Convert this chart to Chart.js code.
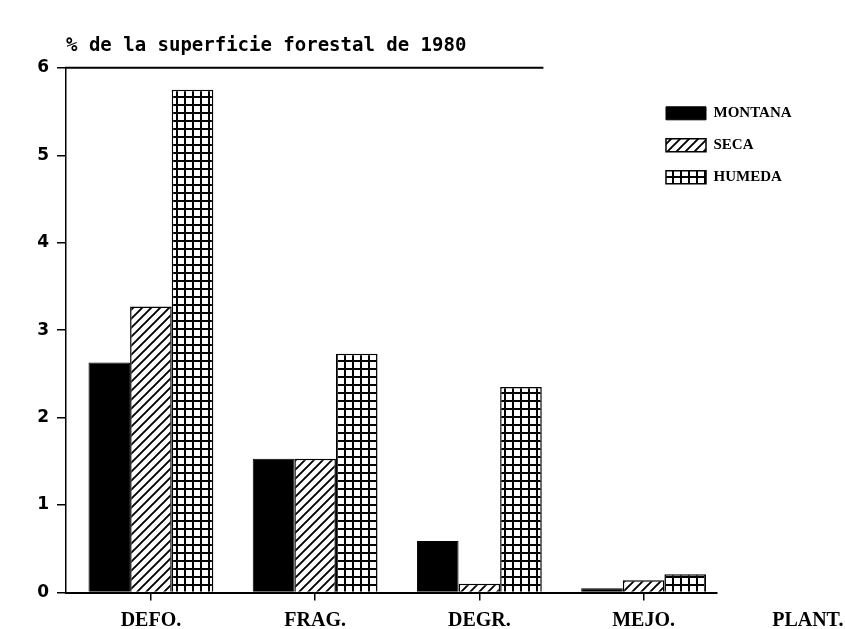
<!DOCTYPE html>
<html>
<head>
<meta charset="utf-8">
<script src="https://cdn.jsdelivr.net/npm/chart.js@4.4.1/dist/chart.umd.min.js"></script>
<style>
  html, body { margin: 0; padding: 0; background: #ffffff; }
  #wrap { width: 845px; height: 629px; }
</style>
</head>
<body>
<div id="wrap"><canvas id="c" width="845" height="629"></canvas></div>
<script>
// ---- data ----
const categories = ['DEFO.', 'FRAG.', 'DEGR.', 'MEJO.', 'PLANT.'];
const seriesNames = ['MONTANA', 'SECA', 'HUMEDA'];
const montana = [2.63, 1.53, 0.59, 0.05, null];
const seca    = [3.27, 1.53, 0.10, 0.14, null];
const humeda  = [5.75, 2.73, 2.35, 0.21, null];
const yTicks  = [0, 1, 2, 3, 4, 5, 6];
const chartTitle = '% de la superficie forestal de 1980';

// ---- fill patterns ----
function gridPattern() {
  const c = document.createElement('canvas');
  c.width = 8; c.height = 8;
  const g = c.getContext('2d');
  g.fillStyle = '#fff'; g.fillRect(0, 0, 8, 8);
  g.fillStyle = '#000';
  g.fillRect(0, 0, 8, 2);
  g.fillRect(0, 0, 2, 8);
  return g.createPattern(c, 'repeat');
}
function hatchPattern() {
  const s = 9;
  const c = document.createElement('canvas');
  c.width = s; c.height = s;
  const g = c.getContext('2d');
  g.fillStyle = '#fff'; g.fillRect(0, 0, s, s);
  g.strokeStyle = '#000'; g.lineWidth = 1.9;
  g.beginPath();
  g.moveTo(-1, s + 1); g.lineTo(s + 1, -1);
  g.moveTo(-2, 2); g.lineTo(2, -2);
  g.moveTo(s - 2, s + 2); g.lineTo(s + 2, s - 2);
  g.stroke();
  return g.createPattern(c, 'repeat');
}

function toPoints(arr) {
  const out = [];
  arr.forEach((v, i) => { if (v !== null) out.push({ x: i + 1, y: v }); });
  return out;
}

// top rule of the frame (ends above the DEGR. group)
const topRuleEndX = 3.39;
const topRule = {
  id: 'topRule',
  afterDraw(chart) {
    const { ctx, chartArea, scales } = chart;
    const y = scales.y.getPixelForValue(yTicks[yTicks.length - 1]);
    ctx.save();
    ctx.strokeStyle = '#000';
    ctx.lineWidth = 2;
    ctx.beginPath();
    ctx.moveTo(chartArea.left - 1, y);
    ctx.lineTo(scales.x.getPixelForValue(topRuleEndX), y);
    ctx.stroke();
    ctx.restore();
  }
};

// place the legend inside the plot, upper right
const legendPlace = {
  id: 'legendPlace',
  afterLayout(chart) {
    const lg = chart.legend;
    const a = chart.chartArea;
    const w = lg.width, h = lg.height;
    lg.left = a.right - 68;
    lg.top = a.top + 21;
    lg.right = lg.left + w;
    lg.bottom = lg.top + h;
  }
};

new Chart(document.getElementById('c'), {
  type: 'bar',
  data: {
    datasets: [
      { label: seriesNames[0], data: toPoints(montana), backgroundColor: '#000', borderColor: '#000', borderWidth: 1 },
      { label: seriesNames[1], data: toPoints(seca), backgroundColor: hatchPattern(), borderColor: '#000', borderWidth: 1.5 },
      { label: seriesNames[2], data: toPoints(humeda), backgroundColor: gridPattern(), borderColor: '#000', borderWidth: 1.5 }
    ]
  },
  options: {
    responsive: false,
    animation: false,
    layout: { padding: { left: 0, right: 128, top: 0, bottom: -12.5 } },
    datasets: { bar: { categoryPercentage: 0.76, barPercentage: 1.0, borderSkipped: 'start' } },
    plugins: {
      tooltip: { enabled: false },
      title: {
        display: true,
        text: chartTitle,
        align: 'start',
        fullSize: false,
        color: '#000',
        font: { family: 'DejaVu Sans Mono', size: 19, weight: 'bold', lineHeight: 1.2 },
        padding: { top: 35, bottom: 10 }
      },
      legend: {
        display: true,
        position: 'chartArea',
        align: 'start',
        labels: {
          color: '#000',
          boxWidth: 40,
          boxHeight: 13,
          padding: 17,
          font: { family: 'Liberation Serif', size: 15, weight: 'bold' }
        }
      }
    },
    scales: {
      x: {
        type: 'linear',
        offset: false,
        min: 0.483,
        max: 4.447,
        afterBuildTicks(scale) {
          scale.ticks = categories.map((c, i) => ({ value: i + 1 }));
        },
        grid: {
          display: true, offset: false, drawOnChartArea: false, drawTicks: true, tickLength: 8, lineWidth: 1.5,
          color: (ctx) => (ctx.index === categories.length - 1 ? 'rgba(0,0,0,0)' : '#000')
        },
        border: { display: true, color: '#000', width: 2 },
        ticks: {
          autoSkip: false,
          maxRotation: 0,
          padding: 10.5,
          color: '#000',
          font: { family: 'Liberation Serif', size: 20, weight: 'bold', lineHeight: 1 },
          callback: (v) => categories[v - 1] || ''
        }
      },
      y: {
        type: 'linear',
        min: yTicks[0],
        max: yTicks[yTicks.length - 1],
        afterFit(scale) { scale.width = 66; },
        grid: { display: true, drawOnChartArea: false, drawTicks: true, tickLength: 9, color: '#000', lineWidth: 1.5 },
        border: { display: true, color: '#000', width: 1.5 },
        ticks: {
          stepSize: 1,
          padding: 8,
          color: '#000',
          font: { family: 'DejaVu Sans', size: 17, weight: 'bold' }
        }
      }
    }
  },
  plugins: [topRule, legendPlace]
});
</script>
</body>
</html>
